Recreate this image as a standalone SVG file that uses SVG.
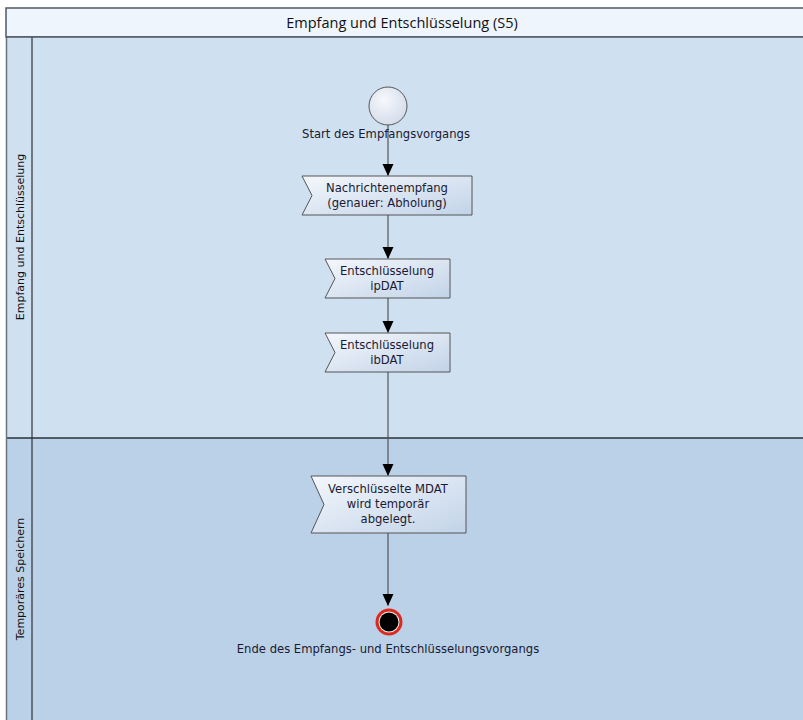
<svg xmlns="http://www.w3.org/2000/svg" width="803" height="720" viewBox="0 0 803 720">
<defs>
<linearGradient id="ng" x1="0" y1="0" x2="1" y2="1">
<stop offset="0" stop-color="#f4f7fc"/>
<stop offset="1" stop-color="#c2d3e8"/>
</linearGradient>
<radialGradient id="sg" cx="0.4" cy="0.35" r="0.7">
<stop offset="0" stop-color="#f6f8fc"/>
<stop offset="1" stop-color="#d2dcea"/>
</radialGradient>
<marker id="ah" markerWidth="11" markerHeight="12" refX="12" refY="5.5" orient="auto" markerUnits="userSpaceOnUse">
<path d="M0,0 L12,5.5 L0,11 Z" fill="#000"/>
</marker>
</defs>
<style>
.t{font-family:"DejaVu Sans",sans-serif;font-size:11.6px;fill:#1a1a33;text-anchor:middle}
.lane{font-family:"DejaVu Sans",sans-serif;font-size:11px;fill:#111;text-anchor:middle}
.node{fill:url(#ng);stroke:#555;stroke-width:1}
.conn{stroke:#555;stroke-width:1.2;fill:none}
</style>
<rect width="803" height="720" fill="#ffffff"/>
<g id="pool">
<rect x="6" y="8" width="800" height="29" fill="#eef5fd" stroke="#4f5962" stroke-width="1.5"/>
<text x="402" y="28" style="font-family:'Open Sans',sans-serif;font-size:14.5px;fill:#111;text-anchor:middle">Empfang und Entschlüsselung (S5)</text>
</g>
<g id="lane1">
<rect x="6" y="37" width="800" height="401" fill="#cfe0f1"/>
<line x1="32" y1="37" x2="32" y2="438" stroke="#2a323a" stroke-width="1.2"/>
<text class="lane" transform="translate(24,237) rotate(-90)">Empfang und Entschlüsselung</text>
</g>
<g id="lane2">
<rect x="6" y="438" width="800" height="290" fill="#bad1e8"/>
<line x1="32" y1="438" x2="32" y2="720" stroke="#2a323a" stroke-width="1.2"/>
<text class="lane" transform="translate(24,579) rotate(-90)">Temporäres Speichern</text>
</g>
<line x1="6" y1="438" x2="806" y2="438" stroke="#2a323a" stroke-width="1.5"/>
<line x1="6.5" y1="37" x2="6.5" y2="720" stroke="#6b747c" stroke-width="1.5"/>
<line x1="6" y1="37" x2="806" y2="37" stroke="#4f5962" stroke-width="1.5"/>
<g id="connectors">
<line class="conn" x1="388" y1="125" x2="388" y2="176" marker-end="url(#ah)"/>
<line class="conn" x1="388" y1="215" x2="388" y2="259" marker-end="url(#ah)"/>
<line class="conn" x1="388" y1="298" x2="388" y2="333" marker-end="url(#ah)"/>
<line class="conn" x1="388" y1="372" x2="388" y2="476" marker-end="url(#ah)"/>
<line class="conn" x1="388" y1="533" x2="388" y2="606" marker-end="url(#ah)"/>
</g>
<g id="start">
<circle cx="388" cy="106" r="19" fill="url(#sg)" stroke="#555" stroke-width="1"/>
<text class="t" x="386" y="138">Start des Empfangsvorgangs</text>
</g>
<g id="n1">
<path class="node" d="M302,176 L472,176 L472,215 L302,215 L312,195.5 Z"/>
<text class="t" x="387" y="192">Nachrichtenempfang</text>
<text class="t" x="387" y="207">(genauer: Abholung)</text>
</g>
<g id="n2">
<path class="node" d="M325,259 L450,259 L450,298 L325,298 L335,278.5 Z"/>
<text class="t" x="387" y="275">Entschlüsselung</text>
<text class="t" x="387" y="290">ipDAT</text>
</g>
<g id="n3">
<path class="node" d="M325,333 L450,333 L450,372 L325,372 L335,352.5 Z"/>
<text class="t" x="387" y="349">Entschlüsselung</text>
<text class="t" x="387" y="364">ibDAT</text>
</g>
<g id="n4">
<path class="node" d="M311,476 L466,476 L466,533 L311,533 L324,504.5 Z"/>
<text class="t" x="388" y="493">Verschlüsselte MDAT</text>
<text class="t" x="388" y="508">wird temporär</text>
<text class="t" x="388" y="523">abgelegt.</text>
</g>
<g id="end">
<circle cx="389" cy="622" r="13.5" fill="#dd2a1f"/>
<circle cx="389" cy="622" r="10.5" fill="#f4f4f4"/>
<circle cx="389" cy="622" r="9.5" fill="#000"/>
<text class="t" x="388" y="653">Ende des Empfangs- und Entschlüsselungsvorgangs</text>
</g>
</svg>
